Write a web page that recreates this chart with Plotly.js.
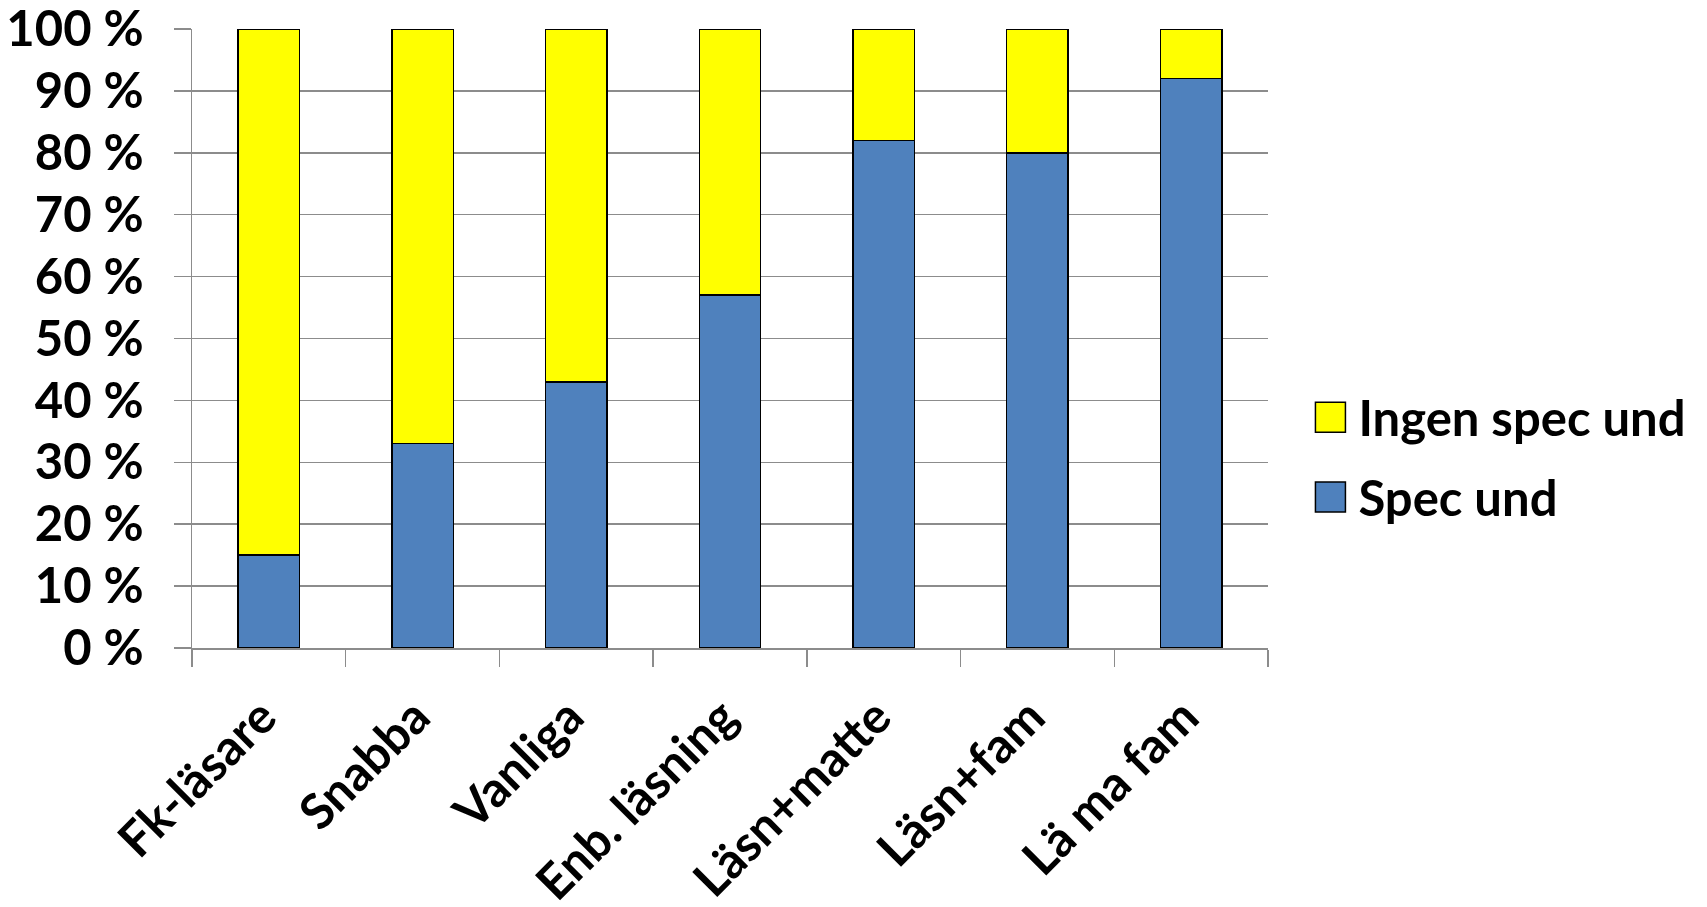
<!DOCTYPE html>
<html>
<head>
<meta charset="utf-8">
<script src="https://cdn.plot.ly/plotly-3.0.1.min.js"></script>
<style>
html,body{margin:0;padding:0;background:#fff;}
#chart{width:1707px;height:907px;}
</style>
</head>
<body>
<div id="chart"></div>
<script>
const categories = ["Fk-läsare", "Snabba", "Vanliga", "Enb. läsning", "Läsn+matte", "Läsn+fam", "Lä ma fam"];
const specUnd = [15, 33, 43, 57, 82, 80, 92];
const ingenSpecUnd = [85, 67, 57, 43, 18, 20, 8];
const yTickVals = [0, 10, 20, 30, 40, 50, 60, 70, 80, 90, 100];
const yTickText = ["0 %", "10 %", "20 %", "30 %", "40 %", "50 %", "60 %", "70 %", "80 %", "90 %", "100 %"];

const font = {family: "Lato, 'Open Sans', sans-serif", size: 49, color: "#000", weight: 700};

const traces = [
  {type: "bar", name: "Spec und", x: categories, y: specUnd, legendgroup: "b", legendrank: 2,
   marker: {color: "#4F81BD", line: {color: "#000", width: 1.5}}},
  {type: "bar", name: "Ingen spec und", x: categories, y: ingenSpecUnd, legendgroup: "a", legendrank: 1,
   marker: {color: "#FFFF00", line: {color: "#000", width: 1.5}}}
];

const layout = {
  width: 1707, height: 907,
  margin: {l: 192, r: 439, t: 29, b: 259},
  paper_bgcolor: "#fff", plot_bgcolor: "#fff",
  barmode: "stack", bargap: 0.6,
  font: font,
  showlegend: true,
  legend: {x: 1.032, xanchor: "left", y: 0.308, yanchor: "middle",
           traceorder: "grouped", font: font, itemwidth: 46, tracegroupgap: 13,
           bgcolor: "rgba(0,0,0,0)"},
  xaxis: {
    type: "category", tickangle: -45, tickfont: font,
    showline: true, linecolor: "#8c8c8c", linewidth: 1.5,
    ticks: "outside", ticklen: 17, tickcolor: "#8c8c8c", tickwidth: 1.5,
    tickson: "boundaries", showgrid: false,
    ticklabelstandoff: 19, ticklabelshift: -7, ticklabeloverflow: "allow"
  },
  yaxis: {
    range: [0, 100], tickvals: yTickVals, ticktext: yTickText, tickfont: font,
    showgrid: true, gridcolor: "#8c8c8c", gridwidth: 1.5,
    showline: true, linecolor: "#8c8c8c", linewidth: 1.5, zeroline: false,
    ticks: "outside", ticklen: 17, tickcolor: "#8c8c8c", tickwidth: 1.5,
    ticklabelstandoff: 20, ticklabeloverflow: "allow"
  }
};

Plotly.newPlot("chart", traces, layout, {displayModeBar: false, staticPlot: true}).then(function (gd) {
  gd.querySelectorAll(".legendpoints path").forEach(function (p) {
    p.setAttribute("d", "M15,15H-15V-15H15Z");
  });
});
</script>
</body>
</html>
